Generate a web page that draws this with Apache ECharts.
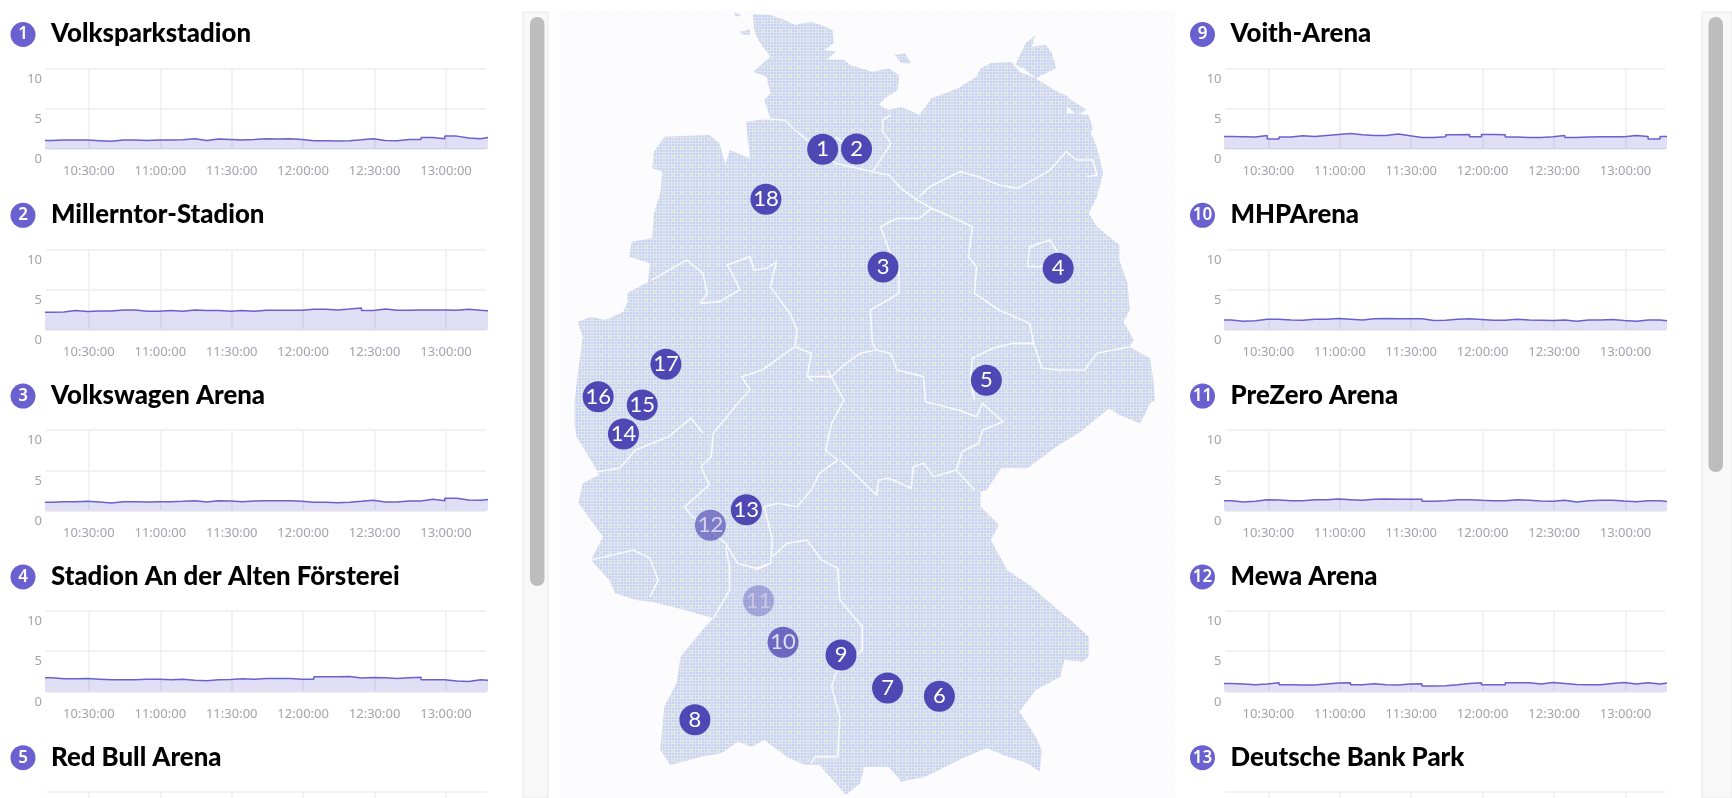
<!DOCTYPE html>
<html>
<head>
<meta charset="utf-8">
<style>
  html, body { margin: 0; padding: 0; background: #fff; overflow: hidden; }
  #chart { width: 1732px; height: 798px; }
</style>
<script src="https://cdn.jsdelivr.net/npm/echarts@6/dist/echarts.min.js"></script>
</head>
<body>
<div id="chart"></div>
<script>
// stadium names in list order
const leftNames = ['Volksparkstadion', 'Millerntor-Stadion', 'Volkswagen Arena', 'Stadion An der Alten Försterei', 'Red Bull Arena']
const rightNames = ['Voith-Arena', 'MHPArena', 'PreZero Arena', 'Mewa Arena', 'Deutsche Bank Park']
const leftNumbers = [1, 2, 3, 4, 5]
const rightNumbers = [9, 10, 11, 12, 13]

// x axis ticks, hour and minute
const tickHours = [10, 11, 11, 12, 12, 13]
const tickMinutes = [30, 0, 30, 0, 30, 0]

// values, one reading per 5 minute step
const volksparkValues = [1.07,1.11,1.11,1.11,1.03,.95,1.11,1.11,1.07,1.11,1.11,1.15,1.28,1.07,1.23,1.19,1.11,1.19,1.28,1.23,1.28,1.19,1.03,1.03,.99,1.03,1.15,1.28,1.07,1.03,1.19,1.19,1.44,1.28,1.6,1.36,1.28,1.52,1.52]
const millerntorValues = [2.18,2.22,2.39,2.26,2.35,2.35,2.47,2.47,2.30,2.30,2.39,2.30,2.47,2.39,2.39,2.30,2.39,2.30,2.43,2.43,2.43,2.43,2.55,2.55,2.47,2.59,2.72,2.39,2.59,2.43,2.43,2.47,2.47,2.47,2.43,2.55,2.43,2.35,2.35]
const volkswagenValues = [1.03,1.11,1.11,1.15,1.07,.95,1.11,1.11,1.07,1.11,1.11,1.15,1.23,1.07,1.23,1.19,1.11,1.19,1.23,1.23,1.23,1.15,1.03,1.03,.99,1.03,1.15,1.28,1.07,1.07,1.19,1.19,1.40,1.23,1.52,1.32,1.28,1.44,1.44]
const alteFoersterei = [1.69,1.56,1.56,1.60,1.52,1.44,1.44,1.44,1.52,1.52,1.44,1.52,1.40,1.32,1.44,1.48,1.56,1.52,1.60,1.60,1.60,1.52,1.52,1.81,1.81,1.85,1.65,1.73,1.69,1.60,1.69,1.77,1.44,1.44,1.28,1.23,1.44,1.36,1.36]
const voithValues = [1.56,1.52,1.48,1.69,1.23,1.48,1.65,1.56,1.69,1.81,1.93,1.77,1.69,1.69,1.85,1.65,1.44,1.44,1.52,1.77,1.81,1.52,1.81,1.77,1.48,1.44,1.44,1.52,1.69,1.44,1.48,1.52,1.52,1.52,1.69,1.56,1.23,1.56,1.56]
const mhpValues = [1.23,1.07,1.11,1.32,1.32,1.23,1.19,1.32,1.32,1.40,1.32,1.23,1.36,1.40,1.36,1.36,1.36,1.15,1.19,1.32,1.36,1.28,1.19,1.19,1.32,1.23,1.19,1.15,1.23,1.07,1.23,1.23,1.28,1.15,1.07,1.23,1.23,1.07,1.07]
const prezeroValues = [1.23,1.07,1.15,1.36,1.32,1.23,1.23,1.36,1.36,1.44,1.36,1.28,1.40,1.44,1.40,1.40,1.40,1.15,1.23,1.36,1.36,1.28,1.23,1.23,1.36,1.28,1.19,1.15,1.28,1.07,1.23,1.28,1.28,1.19,1.11,1.23,1.23,1.07,1.07]
const mewaValues = [.99,.91,.82,.91,1.07,.82,.78,.78,.91,1.03,1.07,.82,.95,.82,.78,.91,.95,.66,.70,.82,.99,1.07,.82,.82,1.07,1.07,.91,1.11,.99,.86,.82,.82,.99,1.11,.91,1.07,.91,1.15,1.15]

// the plots of the last row are cut off by the window, no line of them shows
const leftValues = [volksparkValues, millerntorValues, volkswagenValues, alteFoersterei, []]
const rightValues = [voithValues, mhpValues, prezeroValues, mewaValues, []]

// map units: the map picture measured on a 1568 x 2394 sheet
const germanyOutline = [
  [497,42],[540,45],[575,60],[600,75],[640,65],[670,78],[692,90],[695,130],[672,150],[700,155],[680,178],[722,180],[735,195],
  [790,215],[830,205],[855,225],[852,270],[820,295],[806,315],[830,330],[860,320],[905,345],[935,295],[1000,265],[1045,230],
  [1055,205],[1080,190],[1130,185],[1150,215],[1190,235],[1235,270],[1270,290],[1265,340],[1320,345],[1330,385],[1325,400],
  [1340,440],[1355,520],[1340,590],[1320,640],[1340,680],[1395,735],[1395,780],[1415,850],[1420,930],[1405,965],[1430,1020],
  [1420,1040],[1470,1075],[1478,1140],[1482,1200],[1470,1210],[1455,1250],[1445,1270],[1395,1245],[1370,1225],[1300,1295],
  [1240,1340],[1170,1405],[1105,1405],[1070,1470],[1055,1475],[1055,1520],[1100,1575],[1080,1620],[1120,1710],[1180,1760],
  [1245,1830],[1275,1860],[1320,1910],[1320,1970],[1305,1985],[1260,1980],[1250,2030],[1190,2070],[1150,2135],[1190,2210],
  [1205,2250],[1200,2315],[1170,2290],[1110,2265],[1070,2245],[1010,2275],[920,2330],[860,2345],[830,2300],[770,2300],
  [760,2350],[725,2385],[700,2350],[660,2295],[625,2295],[580,2270],[525,2220],[495,2240],[460,2225],[420,2260],[370,2270],
  [295,2295],[270,2250],[280,2120],[310,2050],[320,1970],[380,1880],[400,1855],[330,1830],[250,1805],[210,1800],[160,1780],
  [145,1740],[100,1680],[130,1610],[70,1510],[80,1450],[120,1425],[105,1390],[65,1310],[60,1270],[60,1200],[80,1010],[68,965],
  [100,950],[135,960],[180,935],[190,905],[190,880],[240,845],[245,790],[195,770],[200,725],[250,715],[255,640],[270,580],
  [275,515],[250,505],[255,455],[280,410],[390,405],[415,430],[430,495],[440,450],[490,475],[480,365],[540,355],[525,300],
  [540,280],[530,230],[498,215],[540,170],[510,120],[500,90]
]
const germanyIslands = [
  [[1165,130],[1190,105],[1180,140],[1215,135],[1230,160],[1240,205],[1190,235],[1160,205],[1140,195]],
  [[845,165],[870,160],[885,190],[860,190]],
  [[465,95],[490,88],[490,105],[470,103]],
  [[450,35],[470,45],[455,50]],
  [[1265,290],[1315,330],[1290,345],[1260,310]]
]
const stateBorders = [
  [[505,355],[575,360],[600,390],[625,415],[700,490],[790,515],[830,525],[860,565],[900,600],[935,625],[1000,660],[1035,680],[1025,770],[1045,800],[1040,880],[1100,930],[1175,970],[1185,1030],[1135,1030],[1085,1045],[1035,1075],[1030,1140],[1040,1200]],
  [[835,345],[815,360],[815,395],[835,430],[815,470],[790,515]],
  [[700,410],[730,440],[760,490]],
  [[905,590],[930,560],[1005,515],[1050,530],[1100,555],[1145,565],[1190,535],[1225,510],[1265,455],[1290,480],[1330,480],[1340,525],[1315,530]],
  [[935,625],[905,655],[850,655],[810,680],[830,750],[855,800],[855,880],[785,930],[790,1030],[800,1050]],
  [[1170,800],[1175,740],[1225,720],[1250,770],[1240,800],[1170,800]],
  [[1185,1030],[1205,1105],[1250,1110],[1310,1110],[1340,1060],[1420,1040]],
  [[800,1050],[835,1060],[850,1110],[915,1130],[920,1205],[1000,1230],[1045,1250],[1060,1210],[1110,1265],[1060,1290],[1050,1330],[1010,1355],[995,1410],[940,1430],[915,1390],[890,1400],[885,1465],[830,1435],[805,1440],[800,1485],[750,1425],[710,1380]],
  [[995,1410],[1040,1470]],
  [[250,840],[320,790],[335,780],[375,820],[385,880],[370,910],[415,905],[465,870],[450,830],[435,795],[490,770],[500,810],[530,805],[555,785],[540,860],[590,945],[605,990],[600,1040],[640,1060],[630,1130],[645,1145]],
  [[800,1050],[760,1060],[720,1095],[690,1130],[630,1130]],
  [[680,1110],[720,1200],[690,1270],[675,1350],[705,1380]],
  [[600,1040],[520,1110],[470,1130],[490,1170],[460,1210],[400,1300],[395,1370],[370,1400],[390,1455],[330,1520],[345,1545]],
  [[345,1255],[375,1300]],
  [[345,1255],[290,1310],[210,1350],[170,1405],[115,1415]],
  [[705,1380],[660,1420],[640,1470],[605,1520],[560,1510],[525,1520],[545,1620],[540,1690],[505,1710]],
  [[345,1545],[430,1630],[460,1690],[505,1705],[540,1690]],
  [[430,1640],[440,1700],[440,1770],[400,1855]],
  [[545,1670],[580,1630],[630,1620],[665,1680],[705,1705],[710,1800],[765,1880],[765,1950],[700,2020],[690,2060],[710,2150],[705,2270],[650,2270],[640,2290]],
  [[100,1680],[205,1650],[245,1675],[265,1740],[245,1790]]
]

// marker positions on the same sheet, index + 1 is the stadium number
const stadiumX = [668,751,816,1245,1069,954,827,355,713,571,511,393,481,180,226,118,284,529]
const stadiumY = [448,447,801,805,1141,2089,2064,2159,1965,1927,1802,1576,1529,1302,1215,1190,1093,598]
const stadiumOpacity = [1,1,1,1,1,1,1,1,1,.78,.38,.66,1,1,1,1,1,1]

const PURPLE = '#6a60cf'
const MARKER = '#4f47b4'
const GRID_LINE = '#eeeef2'
const LABEL = '#a3a3ab'

// x axis runs in seconds since midnight
function clock (h, m, s) {
  return h * 3600 + m * 60 + s
}

function sampleTime (i) {
  return clock(10, 9, 30) + i * 300
}

function two (n) {
  return (n < 10 ? '0' : '') + n
}

function clockLabel (v) {
  return two(Math.floor(v / 3600)) + ':' + two(Math.floor(v / 60) % 60) + ':' + two(v % 60)
}

function dotTile (size, back, dots) {
  const c = document.createElement('canvas')
  c.width = c.height = size
  const ctx = c.getContext('2d')
  ctx.fillStyle = back
  ctx.fillRect(0, 0, size, size)
  dots.forEach(d => {
    ctx.fillStyle = d[3]
    ctx.fillRect(d[0], d[1], d[2], d[2])
  })
  return { image: c, repeat: 'repeat' }
}

// fine blue dots with a green yellow speck now and then
const landFill = dotTile(9, '#dfe4f5', [
  [0, 0, 2, '#c8d3ee'], [3, 0, 2, '#c8d3ee'], [6, 0, 2, '#c8d3ee'],
  [0, 3, 2, '#c8d3ee'], [3, 3, 2, '#c8d3ee'], [6, 3, 2, '#dfe5c8'],
  [0, 6, 2, '#c8d3ee'], [3, 6, 2, '#c8d3ee'], [6, 6, 2, '#c8d3ee']
])
const paperFill = dotTile(16, '#fcfcfe', [[2, 2, 1, '#f8f6cf'], [10, 10, 1, '#f8f6cf']])

const grid = []
const xAxis = []
const yAxis = []
const series = []
const title = []
const graphic = [
  { type: 'rect', z: -1, shape: { x: 559, y: 10, width: 616, height: 788 }, style: { fill: paperFill } },
  { type: 'rect', z: -1, shape: { x: 523, y: 12, width: 25, height: 786 }, style: { fill: '#f8f8f8', stroke: '#e8e8e8' } },
  { type: 'rect', z: -1, shape: { x: 530, y: 17, width: 14.5, height: 569, r: 7 }, style: { fill: '#bdbdbd' } },
  { type: 'rect', z: -1, shape: { x: 1702, y: 12, width: 30, height: 786 }, style: { fill: '#f8f8f8', stroke: '#e8e8e8' } },
  { type: 'rect', z: -1, shape: { x: 1708.5, y: 17, width: 14.5, height: 455, r: 7 }, style: { fill: '#bdbdbd' } }
]

const tickTimes = tickHours.map((h, i) => clock(h, tickMinutes[i], 0))

function addPanel (name, number, values, left, row) {
  const index = grid.length
  const top = 68.5 + row * 180.8
  grid.push({ left, top, width: 440, height: 80.5 })
  xAxis.push({
    type: 'value',
    gridIndex: index,
    min: clock(10, 12, 0),
    max: clock(13, 16, 48),
    axisLine: { show: true, lineStyle: { color: GRID_LINE, width: 1.5 } },
    axisTick: { show: false, customValues: tickTimes },
    splitLine: { show: true, showMinLine: true, showMaxLine: true, lineStyle: { color: GRID_LINE, width: 1.5 } },
    axisLabel: {
      color: LABEL,
      fontFamily: 'Noto Sans',
      fontSize: 13,
      margin: 16,
      customValues: tickTimes,
      hideOverlap: false,
      formatter: clockLabel
    }
  })
  yAxis.push({
    type: 'value',
    gridIndex: index,
    min: 0,
    max: 10,
    interval: 5,
    axisLine: { show: false },
    axisTick: { show: false },
    splitLine: { show: true, lineStyle: { color: GRID_LINE, width: 1.5 } },
    axisLabel: {
      color: LABEL,
      fontFamily: 'Noto Sans',
      fontSize: 13,
      margin: 4,
      verticalAlign: 'top',
      padding: [4, 0, 0, 0]
    }
  })
  series.push({
    type: 'line',
    name,
    xAxisIndex: index,
    yAxisIndex: index,
    step: 'end',
    showSymbol: false,
    silent: true,
    animation: false,
    lineStyle: { color: PURPLE, width: 1.5 },
    areaStyle: { color: 'rgba(106, 96, 207, 0.2)', opacity: 1 },
    data: values.map((v, i) => [sampleTime(i), v])
  })
  title.push({
    text: name,
    left: left + 5,
    top: top - 47.5,
    padding: 0,
    textStyle: { fontFamily: 'Lato', fontWeight: 900, fontSize: 25.8, color: '#000' }
  })
  graphic.push({
    type: 'circle',
    shape: { cx: left - 23, cy: top - 34, r: 12.5 },
    style: { fill: PURPLE }
  })
  graphic.push({
    type: 'text',
    x: left - 23,
    y: top - 34,
    style: { text: String(number), fill: '#fff', font: '600 17px "Noto Sans"', align: 'center', verticalAlign: 'middle' }
  })
}

leftNames.forEach((n, i) => addPanel(n, leftNumbers[i], leftValues[i], 46, i))
rightNames.forEach((n, i) => addPanel(n, rightNumbers[i], rightValues[i], 1225.5, i))

// sheet y grows downwards, geo latitudes grow upwards
const flip = p => [p[0], -p[1]]

echarts.registerMap('germany', {
  type: 'FeatureCollection',
  features: [{
    type: 'Feature',
    properties: { name: 'Deutschland' },
    geometry: {
      type: 'MultiPolygon',
      coordinates: [germanyOutline].concat(germanyIslands).map(ring => [ring.concat([ring[0]]).map(flip)])
    }
  }]
})

series.push({
  type: 'lines',
  coordinateSystem: 'geo',
  polyline: true,
  silent: true,
  animation: false,
  z: 3,
  lineStyle: { color: '#f7f9fd', width: 1.6, opacity: 1 },
  data: stateBorders.map(line => ({ coords: line.map(flip) }))
})

series.push({
  type: 'scatter',
  coordinateSystem: 'geo',
  symbolSize: 31,
  silent: true,
  animation: false,
  z: 4,
  label: {
    show: true,
    position: 'inside',
    formatter: p => p.data.number,
    color: '#fff',
    fontFamily: 'Lato',
    fontSize: 22
  },
  data: stadiumX.map((x, i) => ({
    value: flip([x, stadiumY[i]]),
    number: i + 1,
    itemStyle: { color: MARKER, opacity: stadiumOpacity[i] }
  }))
})

const chart = echarts.init(document.getElementById('chart'))
chart.setOption({
  animation: false,
  backgroundColor: '#fff',
  title,
  grid,
  xAxis,
  yAxis,
  geo: {
    map: 'germany',
    silent: true,
    left: 550,
    top: 0,
    width: 640,
    height: 798,
    boundingCoords: [[0, 0], [1568, -2394]],
    z: 2,
    label: { show: false },
    itemStyle: { areaColor: landFill, borderWidth: 0 }
  },
  series,
  graphic
})
</script>
</body>
</html>
